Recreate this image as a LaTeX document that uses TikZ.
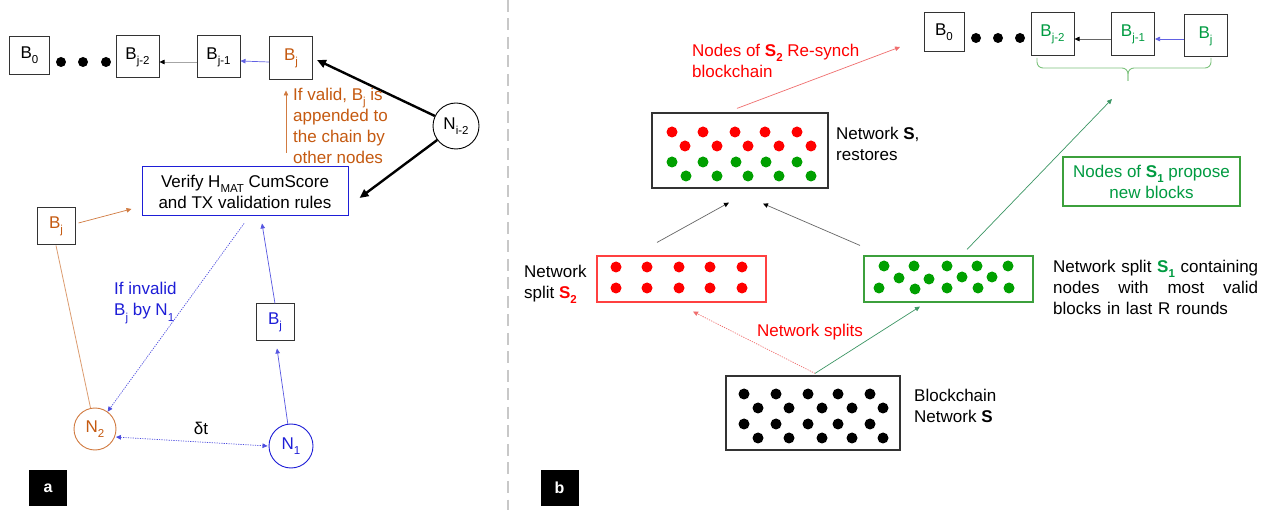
\documentclass[tikz,border=0pt]{standalone}
\usepackage{fontspec}
\setmainfont{Liberation Sans}
\usetikzlibrary{arrows.meta,calc}
\definecolor{cOrange}{RGB}{197,90,17}
\definecolor{cBlue}{RGB}{30,30,215}
\definecolor{cGreenT}{RGB}{0,155,65}
\definecolor{cGreenD}{RGB}{0,160,0}
\definecolor{cGreenB}{RGB}{60,160,60}
\definecolor{cGreenL}{RGB}{125,195,125}
\definecolor{cGreenA}{RGB}{60,150,100}
\definecolor{cRed}{RGB}{255,0,0}
\definecolor{cRedL}{RGB}{240,110,110}
\definecolor{cSep}{RGB}{200,200,200}
\newcommand{\mysub}[1]{\raisebox{-0.3em}{\fontsize{11.5}{12}\selectfont #1}}
\tikzset{
  blk/.style={draw=black!80, line width=1pt, minimum width=43pt, minimum height=42pt, inner sep=0pt},
  blks/.style={blk, minimum width=38pt, minimum height=37pt},
  nd/.style={circle, draw, line width=0.9pt, minimum size=#1, inner sep=0pt},
  thin arr/.style={-{Triangle[length=5pt,width=4.5pt]}, line width=0.7pt},
  thick arr/.style={-{Triangle[length=9pt,width=8pt]}, line width=2.4pt},
  dotline/.style={dash pattern=on 1.2pt off 1.2pt},
  netbox/.style={draw=black!80, line width=1.2pt, inner sep=0pt},
  lbl/.style={align=left, inner sep=0pt},
  tag/.style={fill=black, text=white, font=\fontsize{16}{16}\selectfont\bfseries, minimum width=38pt, minimum height=36pt, inner sep=0pt},
}
\begin{document}
\begin{tikzpicture}[x=1pt,y=-1pt, font=\fontsize{17}{21}\selectfont]
\useasboundingbox (0,0) rectangle (1283,510);
\fill[white] (0,0) rectangle (1283,510);

% separator
\draw[cSep, line width=2.5pt, dash pattern=on 12pt off 6.5pt] (508,0) -- (508,510);

% ================= LEFT PANEL =================
\node[blk, minimum width=40pt, minimum height=38pt] (b0L) at (29.5,55.5) {B\mysub{0}};
\foreach \x in {61,83,106} \fill (\x,62) circle (5pt);
\node[blk] (bm2L) at (137.5,57) {B\mysub{j-2}};
\node[blk] (bm1L) at (218.5,57) {B\mysub{j-1}};
\node[blk, text=cOrange, minimum height=43pt] (bjL) at (291,58.5) {B\mysub{j}};
\draw[thin arr, black!35, -{Triangle[length=5pt,width=4.5pt,black]}] ([yshift=-5pt]bm1L.west) -- ([yshift=-5pt]bm2L.east);
\draw[thin arr, cBlue!70] ([yshift=-3.5pt]bjL.west) -- ([yshift=-4pt]bm1L.east);

\node[nd=46pt] (ni2) at (456,126) {N\mysub{i-2}};

\node[draw=cBlue, line width=1pt, minimum width=206pt, minimum height=49pt, inner sep=0pt, align=center] (verify) at (245,191.5)
  {Verify H\mysub{MAT} CumScore\\and TX validation rules};

\draw[thick arr] (ni2) -- ([xshift=4pt,yshift=-1.5pt]bjL.east);
\draw[thick arr] (ni2) -- ([xshift=11pt,yshift=-6.5pt]verify.east);

\coordinate (oa1) at (286,153);
\draw[thin arr, cOrange!80] (oa1) -- ([xshift=-5pt,yshift=-10pt]bjL.south);
\node[lbl, anchor=north west, text=cOrange] (validtxt) at (293,88)
  {If valid, B\mysub{j} is\\appended to\\the chain by\\other nodes};

\node[blks, text=cOrange] (bjO) at (56,226.5) {B\mysub{j}};
\draw[thin arr, cOrange!80] ([xshift=3pt,yshift=3.5pt]bjO.east) -- ([xshift=-10pt,yshift=-17.5pt]verify.west);

\node[nd=42pt, draw=cOrange!80, text=cOrange] (n2) at (95,429) {N\mysub{2}};
\node[nd=44pt, draw=cBlue, text=cBlue] (n1) at (291,446) {N\mysub{1}};
\node[blks, text=cBlue] (bjB) at (275,322.5) {B\mysub{j}};

\draw[line width=0.8pt, cOrange!60] (bjO.south) -- (n2);
\draw[thin arr, cBlue!75] (n1) -- ([xshift=2pt,yshift=-7pt]bjB.south);
\draw[thin arr, cBlue!75] (bjB.north) -- ([xshift=17pt,yshift=-7pt]verify.south);
\draw[thin arr, dotline, cBlue!80] ([xshift=-1pt,yshift=-7pt]verify.south) -- (n2);
\draw[dotline, cBlue!80, line width=0.7pt, {Triangle[length=5pt,width=4.5pt]}-{Triangle[length=5pt,width=4.5pt]}] ([xshift=1pt]n2.-22) -- ([xshift=-1pt]n1.west);

\node[inner sep=0pt] (dt) at (201,428) {δt};
\node[lbl, anchor=west, text=cBlue] (invtxt) at (114,303) {If invalid\\B\mysub{j} by N\mysub{1}};

\node[tag] (taga) at (48,488) {a};

% ================= RIGHT PANEL =================
\node[blk, minimum width=40pt, minimum height=39pt] (b0R) at (944,32.5) {B\mysub{0}};
\foreach \x in {976,998,1020} \fill (\x,38) circle (5pt);
\node[blk, text=cGreenT, minimum height=43pt] (bm2R) at (1052.5,34.5) {B\mysub{j-2}};
\node[blk, text=cGreenT, minimum height=43pt] (bm1R) at (1133,34.5) {B\mysub{j-1}};
\node[blk, text=cGreenT, minimum height=42pt] (bjR) at (1205.5,36) {B\mysub{j}};
\draw[thin arr, black!60, -{Triangle[length=5pt,width=4.5pt,black]}] ([yshift=-4.5pt]bm1R.west) -- ([yshift=-4.5pt]bm2R.east);
\draw[thin arr, cBlue!70] ([yshift=-3pt]bjR.west) -- ([yshift=-4.5pt]bm1R.east);

% brace
\draw[cGreenL, line width=0.9pt, rounded corners=6pt] (1037,58) |- (1128,68) -- (1128,81);
\draw[cGreenL, line width=0.9pt, rounded corners=6pt] (1211,58) |- (1128,68) -- (1128,81);
\coordinate (braceTip) at (1112,99);

% Network S restores
\node[netbox, minimum width=176pt, minimum height=75pt] (netR) at (740,150.5) {};
\foreach \x/\y in {672/132,703/132,735/132,765/132,797/132,685/146,717/146,748/146,779/146,811/146}
  \fill[cRed] (\x,\y) circle (5.5pt);
\foreach \x/\y in {672/162,703/162,736/162,766/162,797/162,686/176,717/176,748/176,779/176,811/176}
  \fill[cGreenD] (\x,\y) circle (5.5pt);
\node[lbl, anchor=north west] (netRtxt) at (836,126.5) {Network \textbf{S},\\restores};

% resynch arrow
\coordinate (resTip) at (900,47);
\draw[thin arr, cRedL] ([xshift=-3pt,yshift=4pt]netR.north) -- (resTip);
\node[lbl, anchor=north west, text=cRed] (restxt) at (692,43.5) {Nodes of \textbf{S\mysub{2}} Re-synch\\blockchain};

% split boxes
\node[draw=cRed!75, line width=1.1pt, minimum width=169pt, minimum height=46pt, inner sep=0pt] (redbox) at (681.5,279) {};
\foreach \x in {616,647,679,710,742} {\fill[cRed] (\x,267) circle (5.5pt); \fill[cRed] (\x,288) circle (5.5pt);}
\node[draw=cGreenB, line width=1.1pt, minimum width=169pt, minimum height=46pt, inner sep=0pt] (greenbox) at (948.5,279) {};
\foreach \x/\y in {884/266,914/266,947/266,977/266,1008/266,879/288,915/289,947/288,978/288,1009/288,899/278,929/279,962/277,992/277}
  \fill[cGreenD] (\x,\y) circle (5.5pt);

\node[lbl, anchor=north west] (s2txt) at (524,264.5) {Network\\split \textcolor{cRed}{\textbf{S\mysub{2}}}};
\node[lbl, anchor=north west, text width=205pt] (s1txt) at (1053,259.5)
  {Network\hfill split\hfill \textcolor{cGreenT}{\textbf{S\mysub{1}}}\hfill containing\\nodes\hfill with\hfill most\hfill valid\\blocks in last R rounds};

\draw[thin arr, black!60, -{Triangle[length=5pt,width=4.5pt,black]}] ([xshift=-24.5pt,yshift=13pt]redbox.north) -- ([xshift=-11pt,yshift=-14pt]netR.south);
\draw[thin arr, black!60, -{Triangle[length=5pt,width=4.5pt,black]}] ([xshift=-88.5pt,yshift=10pt]greenbox.north) -- ([xshift=23pt,yshift=-15pt]netR.south);
\draw[thin arr, cGreenA] ([xshift=18.5pt,yshift=6pt]greenbox.north) -- (braceTip);

\node[draw=cGreenB, line width=1.1pt, minimum width=177pt, minimum height=49pt, inner sep=0pt, align=center, text=cGreenT] (proposebox) at (1151.5,181.5)
  {Nodes of \textbf{S\mysub{1}} propose\\new blocks};

% blockchain network
\node[netbox, minimum width=174pt, minimum height=74pt] (bc) at (813,413) {};
\foreach \x/\y in {744/394,776/394,808/394,838/394,870/394,758/408,789/408,822/408,852/408,883/408,744/424,776/424,808/424,838/424,870/424,758/438,789/438,822/438,852/438,883/438}
  \fill (\x,\y) circle (5.5pt);
\node[lbl, anchor=north west] (bctxt) at (914,388.5) {Blockchain\\Network \textbf{S}};

\draw[thin arr, dotline, cRedL] ([xshift=2pt,yshift=2pt]bc.north) -- ([xshift=11.5pt,yshift=-9pt]redbox.south);
\draw[thin arr, cGreenA] ([xshift=2pt,yshift=2pt]bc.north) -- ([xshift=-28.5pt,yshift=-4pt]greenbox.south);
\node[text=cRed, inner sep=0pt] (splitstxt) at (810,332) {Network splits};

\node[tag] (tagb) at (559.5,488) {b};
\end{tikzpicture}
\end{document}
